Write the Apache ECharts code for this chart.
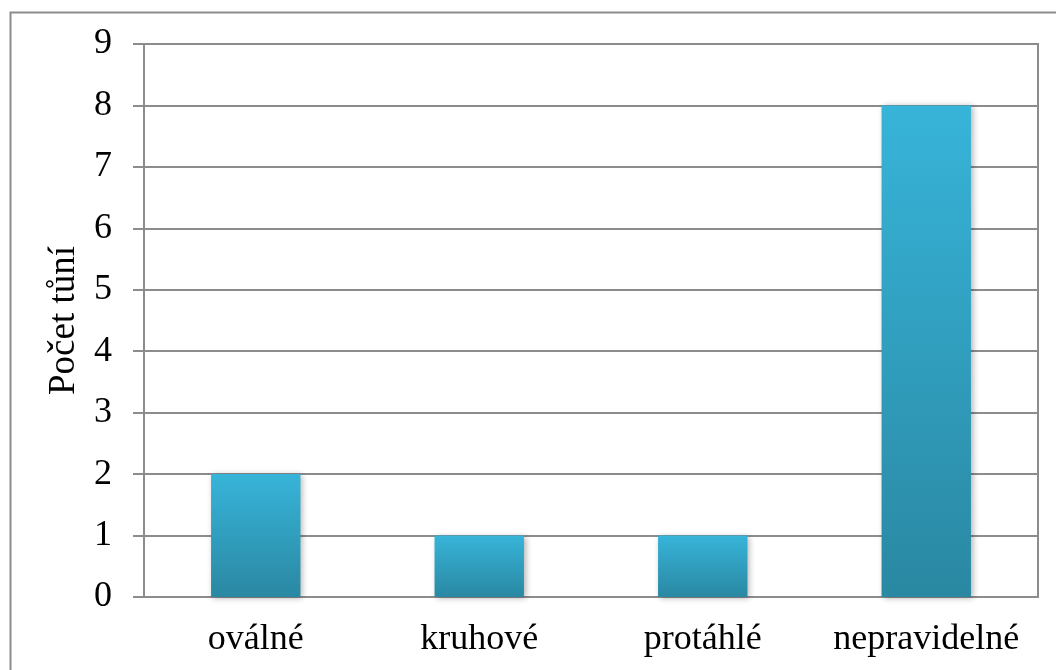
<!DOCTYPE html>
<html>
<head>
<meta charset="utf-8">
<script src="https://cdn.jsdelivr.net/npm/echarts@6/dist/echarts.min.js"></script>
<style>
html,body{margin:0;padding:0;background:#fff;}
#chart{width:1056px;height:670px;}
</style>
</head>
<body>
<div id="chart"></div>
<script>
const categories = ['oválné', 'kruhové', 'protáhlé', 'nepravidelné'];
const values = [2, 1, 1, 8];
const yAxisName = 'Počet tůní';
const yMin = 0, yMax = 9, yInterval = 1;

const chart = echarts.init(document.getElementById('chart'));
const font = '"Liberation Serif", "Times New Roman", serif';
chart.setOption({
  animation: false,
  backgroundColor: '#fff',
  graphic: [{
    type: 'rect',
    left: 8, top: 10,
    shape: { width: 1100, height: 700 },
    style: { fill: 'none', stroke: '#8c8c8c', lineWidth: 2 },
    z: -1
  }],
  grid: {
    left: 144, right: 18, top: 44, bottom: 73,
    show: true, borderColor: '#8c8c8c', borderWidth: 2
  },
  xAxis: {
    type: 'category',
    data: categories,
    axisLine: { show: true, lineStyle: { color: '#8c8c8c', width: 2 } },
    axisTick: { show: false },
    axisLabel: { color: '#000', fontFamily: font, fontSize: 36, margin: 25, interval: 0 }
  },
  yAxis: {
    type: 'value',
    min: yMin, max: yMax, interval: yInterval,
    name: yAxisName,
    nameLocation: 'middle',
    nameRotate: 90,
    nameGap: 60,
    nameTextStyle: { color: '#000', fontFamily: font, fontSize: 37 },
    axisLine: { show: true, lineStyle: { color: '#8c8c8c', width: 2 } },
    axisTick: { show: true, length: 11, lineStyle: { color: '#8c8c8c', width: 2 } },
    axisLabel: { color: '#000', fontFamily: font, fontSize: 36, margin: 32 },
    splitLine: { show: true, lineStyle: { color: '#8c8c8c', width: 2 } }
  },
  series: [{
    type: 'bar',
    data: values,
    barWidth: '40%',
    itemStyle: {
      color: new echarts.graphic.LinearGradient(0, 0, 0, 1, [
        { offset: 0, color: '#37b4d9' },
        { offset: 1, color: '#2a88a2' }
      ]),
      shadowBlur: 6,
      shadowColor: 'rgba(0,0,0,0.3)',
      shadowOffsetX: 2,
      shadowOffsetY: 1
    }
  }]
});
</script>
</body>
</html>
